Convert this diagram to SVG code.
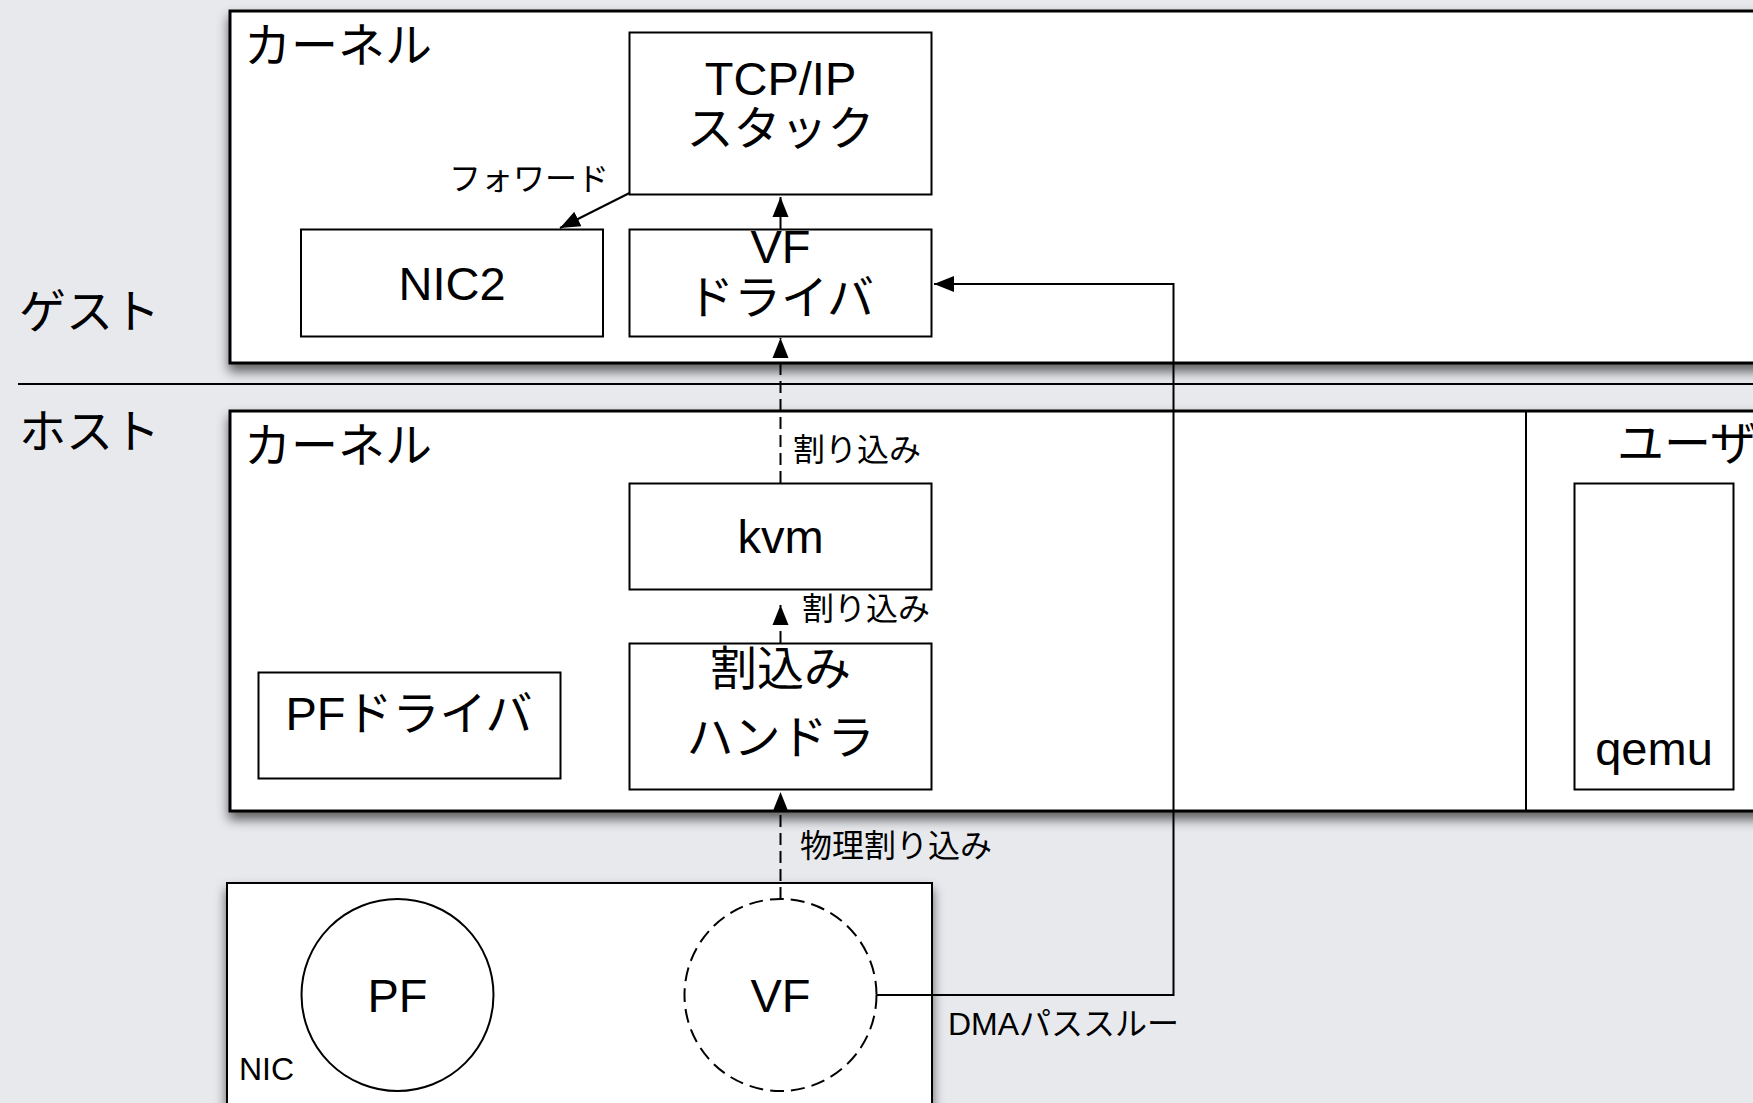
<svg xmlns="http://www.w3.org/2000/svg" width="1753" height="1103" viewBox="0 0 1753 1103">
<defs>
<filter id="sh" x="-5%" y="-5%" width="110%" height="120%">
<feDropShadow dx="0" dy="7" stdDeviation="6" flood-color="#000" flood-opacity="0.6"/>
</filter>
<marker id="ah" markerUnits="userSpaceOnUse" markerWidth="22" markerHeight="18" refX="20" refY="9" orient="auto">
<path d="M0,1 L20,9 L0,17 Z" fill="#000"/>
</marker>
<style>
text{font-family:"Liberation Sans","Noto Sans CJK JP",sans-serif;fill:#000}
.big{font-size:47px}
.mid{font-size:47px}
.sm{font-size:32px}
.c{text-anchor:middle}
.cont{fill:#fff;stroke:#000;stroke-width:3}
.box{fill:#fff;stroke:#000;stroke-width:2}
.ln{fill:none;stroke:#000;stroke-width:2}
.dash{stroke-dasharray:12 6}
</style>
</defs>
<rect x="0" y="0" width="1753" height="1103" fill="#e8e9ed"/>
<line x1="18" y1="384" x2="1753" y2="384" stroke="#000" stroke-width="2"/>
<text class="big" x="19" y="328">ゲスト</text>
<text class="big" x="19" y="448">ホスト</text>

<g id="guest-kernel">
<rect class="cont" x="230" y="11" width="1560" height="352" filter="url(#sh)"/>
<text class="big" x="244" y="62">カーネル</text>
</g>
<g id="tcpip">
<rect class="box" x="629.5" y="32.5" width="302" height="162"/>
<text class="big c" x="780.5" y="95">TCP/IP</text>
<text class="big c" x="780.5" y="145">スタック</text>
</g>
<g id="nic2">
<rect class="box" x="301" y="229.5" width="302" height="107"/>
<text class="mid c" x="452" y="300">NIC2</text>
</g>
<g id="vf-driver">
<rect class="box" x="629.5" y="229.5" width="302" height="107"/>
<text class="big c" x="780.5" y="263">VF</text>
<text class="big c" x="780.5" y="314">ドライバ</text>
</g>

<g id="host">
<rect class="cont" x="230" y="411" width="1560" height="400" filter="url(#sh)"/>
<line x1="1526" y1="411" x2="1526" y2="811" stroke="#000" stroke-width="2"/>
<text class="big" x="244" y="462">カーネル</text>
<text class="big" x="1617" y="460">ユーザ</text>
</g>
<g id="kvm">
<rect class="box" x="629.5" y="483.5" width="302" height="106"/>
<text class="mid c" x="780.5" y="553">kvm</text>
</g>
<g id="handler">
<rect class="box" x="629.5" y="643.5" width="302" height="146"/>
<text class="big c" x="780.5" y="685">割込み</text>
<text class="big c" x="780.5" y="754">ハンドラ</text>
</g>
<g id="pf-driver">
<rect class="box" x="258.5" y="672.5" width="302" height="106"/>
<text class="big c" x="409" y="730">PFドライバ</text>
</g>
<g id="qemu">
<rect class="box" x="1574.5" y="483.5" width="159" height="306"/>
<text class="mid c" x="1654" y="765">qemu</text>
</g>

<g id="nic">
<rect class="box" x="227" y="883" width="705" height="260" filter="url(#sh)"/>
<text class="sm" x="239" y="1080">NIC</text>
</g>
<g id="pf">
<circle class="ln" cx="397.5" cy="995" r="96"/>
<text class="big c" x="397.5" y="1012">PF</text>
</g>
<g id="vf">
<circle class="ln" cx="780.5" cy="995" r="96" stroke-dasharray="14 7"/>
<text class="big c" x="780.5" y="1012">VF</text>
</g>

<g id="connectors">
<line class="ln" x1="629.5" y1="193" x2="560" y2="228" marker-end="url(#ah)"/>
<line class="ln" x1="780.5" y1="229" x2="780.5" y2="197" marker-end="url(#ah)"/>
<line class="ln dash" x1="780.5" y1="483" x2="780.5" y2="338" marker-end="url(#ah)"/>
<line class="ln dash" x1="780.5" y1="643" x2="780.5" y2="605" marker-end="url(#ah)"/>
<line class="ln dash" x1="780.5" y1="899" x2="780.5" y2="792" marker-end="url(#ah)"/>
<polyline class="ln" points="876.5,995 1173.5,995 1173.5,284 934,284" marker-end="url(#ah)"/>
<text class="sm" x="449" y="190">フォワード</text>
<text class="sm" x="793" y="461">割り込み</text>
<text class="sm" x="802" y="620">割り込み</text>
<text class="sm" x="800" y="857">物理割り込み</text>
<text class="sm" x="948" y="1035">DMAパススルー</text>
</g>
</svg>
